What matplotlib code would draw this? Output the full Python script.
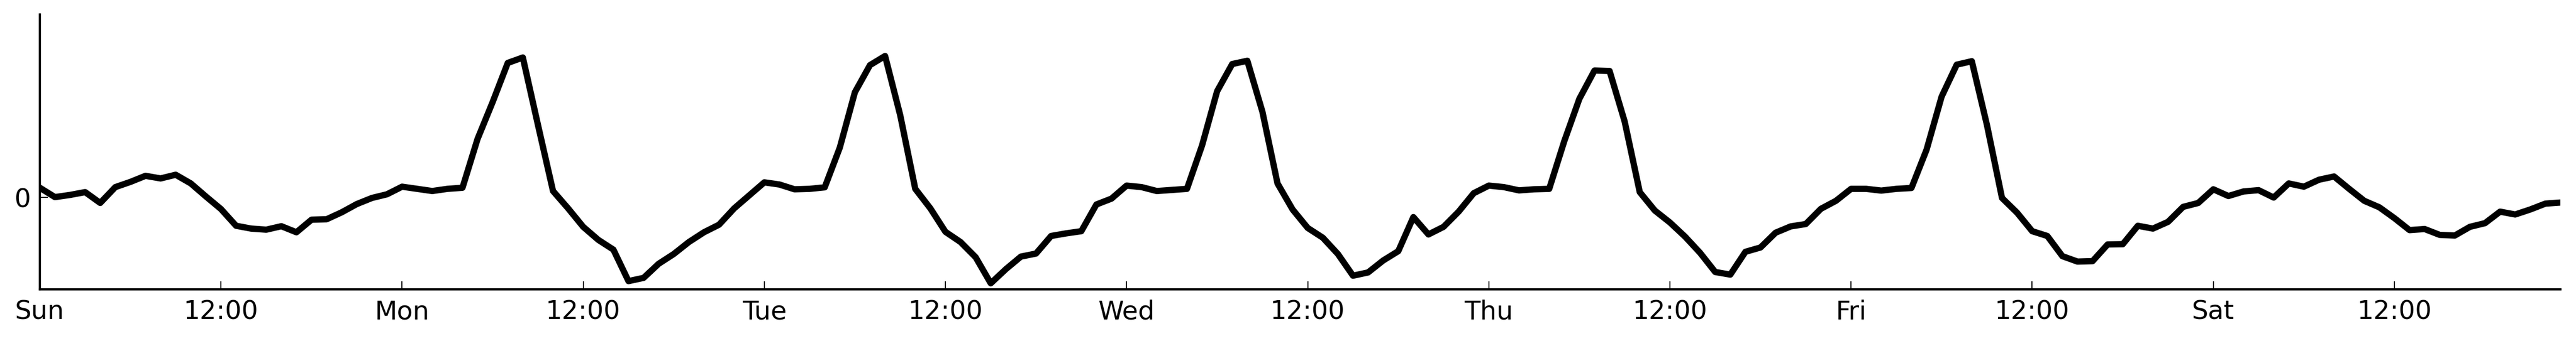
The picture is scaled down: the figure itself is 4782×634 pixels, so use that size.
import matplotlib
matplotlib.use("Agg")
import matplotlib.pyplot as plt
import numpy as np

# hourly values over one week, Sun 00:00 .. Sat 23:00
hours = np.arange(168)
values = [
    0.45, 0.02, 0.12, 0.25, -0.25, 0.48, 0.72, 1.00, 0.88, 1.05, 0.65, 0.05,
    -0.53, -1.30, -1.43, -1.48, -1.32, -1.60, -1.02, -1.00, -0.68, -0.30, -0.02, 0.15,
    0.50, 0.40, 0.30, 0.40, 0.45, 2.70, 4.40, 6.20, 6.45, 3.35, 0.30, -0.50,
    -1.35, -1.95, -2.40, -3.85, -3.70, -3.05, -2.60, -2.05, -1.60, -1.25, -0.50, 0.10,
    0.70, 0.60, 0.38, 0.40, 0.47, 2.30, 4.85, 6.10, 6.52, 3.80, 0.40, -0.50,
    -1.58, -2.05, -2.75, -3.95, -3.30, -2.72, -2.58, -1.77, -1.65, -1.55, -0.32, -0.05,
    0.55, 0.48, 0.30, 0.35, 0.40, 2.40, 4.90, 6.15, 6.30, 3.95, 0.65, -0.55,
    -1.40, -1.85, -2.60, -3.60, -3.45, -2.90, -2.47, -0.90, -1.70, -1.35, -0.65, 0.20,
    0.55, 0.48, 0.33, 0.38, 0.40, 2.60, 4.55, 5.85, 5.83, 3.50, 0.25, -0.60,
    -1.15, -1.80, -2.55, -3.43, -3.55, -2.50, -2.30, -1.62, -1.33, -1.22, -0.52, -0.15,
    0.40, 0.40, 0.32, 0.40, 0.44, 2.20, 4.65, 6.12, 6.28, 3.35, -0.02, -0.70,
    -1.55, -1.77, -2.70, -2.95, -2.93, -2.16, -2.15, -1.30, -1.43, -1.12, -0.43, -0.25,
    0.38, 0.07, 0.28, 0.34, 0.00, 0.65, 0.50, 0.82, 0.97, 0.40, -0.15, -0.45,
    -0.95, -1.50, -1.45, -1.72, -1.75, -1.35, -1.18, -0.65, -0.78, -0.55, -0.28, -0.23,
]
tick_pos = np.arange(0, 168, 12)
tick_labels = ["Sun", "12:00", "Mon", "12:00", "Tue", "12:00", "Wed", "12:00",
               "Thu", "12:00", "Fri", "12:00", "Sat", "12:00"]

plt.rcParams["font.family"] = "DejaVu Sans"
plt.rcParams["font.size"] = 11.6
plt.rcParams["xtick.direction"] = "in"
plt.rcParams["ytick.direction"] = "in"

fig = plt.figure(figsize=(4782 / 300, 634 / 300), dpi=300)
ax = fig.add_axes([0.01547, 0.1514, 0.9785, 0.806])
ax.plot(hours, values, color="black", linewidth=2.8)

ax.set_xlim(0, 167)
ax.set_ylim(-4.23, 8.43)
ax.set_xticks(tick_pos)
ax.set_xticklabels(tick_labels)
ax.set_yticks([0])
ax.set_yticklabels(["0"])

ax.spines["top"].set_visible(False)
ax.spines["right"].set_visible(False)
ax.spines["left"].set_linewidth(1)
ax.spines["bottom"].set_linewidth(1)
ax.tick_params(top=False, right=False, length=3.5, width=0.45)
ax.tick_params(axis="x", pad=4.5)
ax.tick_params(axis="y", pad=4)

fig.savefig("out.png", dpi=300)
